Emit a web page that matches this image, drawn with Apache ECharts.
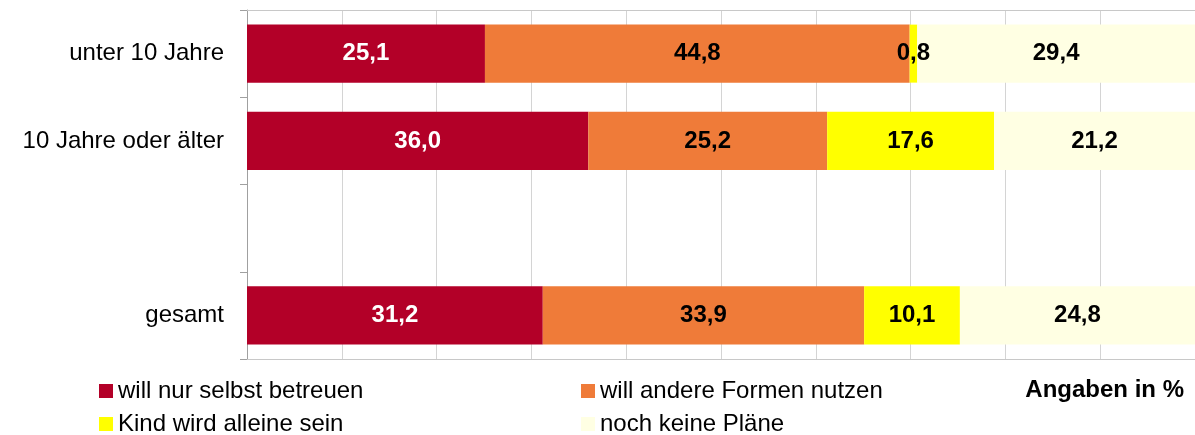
<!DOCTYPE html>
<html>
<head>
<meta charset="utf-8">
<script src="https://cdn.jsdelivr.net/npm/echarts@6/dist/echarts.min.js"></script>
<style>
  html, body { margin: 0; padding: 0; background: #ffffff; }
  #chart { width: 1195px; height: 435px; }
</style>
</head>
<body>
<div id="chart"></div>
<script>
// Age groups (top to bottom); the blank entry leaves a gap above "gesamt"
const categories = ['unter 10 Jahre', '10 Jahre oder älter', '', 'gesamt'];

// Shares in percent per answer, one value per age group
const nurSelbst   = [25.1, 36.0, null, 31.2];
const andereForm  = [44.8, 25.2, null, 33.9];
const alleine     = [0.8, 17.6, null, 10.1];
const keinePlaene = [29.4, 21.2, null, 24.8];

const seriesNames = [
  'will nur selbst betreuen',
  'will andere Formen nutzen',
  'Kind wird alleine sein',
  'noch keine Pläne'
];
const seriesData = [nurSelbst, andereForm, alleine, keinePlaene];
const seriesColors = ['#b30028', '#ef7b39', '#ffff00', '#ffffe3'];
const labelColors = ['#ffffff', '#000000', '#000000', '#000000'];

const FONT = '"Liberation Sans", Arial, Helvetica, sans-serif';

const fmt = (v) => v.toFixed(1).replace('.', ',');

// Legend laid out as two columns of two entries each
const legendSlots = [
  { left: 99, top: 379 },   // will nur selbst betreuen
  { left: 581, top: 379 },  // will andere Formen nutzen
  { left: 99, top: 412 },   // Kind wird alleine sein
  { left: 581, top: 412 }   // noch keine Pläne
];

const chart = echarts.init(document.getElementById('chart'), null, { renderer: 'canvas' });

chart.setOption({
  animation: false,
  backgroundColor: '#ffffff',
  textStyle: { fontFamily: FONT },
  grid: { left: 247, right: -3, top: 10, height: 349, containLabel: false },
  xAxis: [
    {
      type: 'value',
      min: 0,
      max: 100,
      interval: 10,
      position: 'bottom',
      axisLabel: { show: false },
      axisTick: { show: false },
      axisLine: { show: true, lineStyle: { color: '#c8c8c8', width: 1 } },
      splitLine: { show: true, lineStyle: { color: '#d4d4d4', width: 1 } }
    },
    {
      type: 'value',
      min: 0,
      max: 100,
      position: 'top',
      axisLabel: { show: false },
      axisTick: { show: false },
      axisLine: { show: true, lineStyle: { color: '#c8c8c8', width: 1 } },
      splitLine: { show: false }
    }
  ],
  yAxis: {
    type: 'category',
    inverse: true,
    data: categories,
    axisLine: { show: true, lineStyle: { color: '#a0a0a0', width: 1 } },
    axisTick: { show: true, length: 7, lineStyle: { color: '#a0a0a0' } },
    axisLabel: {
      margin: 23,
      fontSize: 24,
      color: '#000000',
      fontFamily: FONT
    },
    splitLine: { show: false }
  },
  legend: seriesNames.map((name, i) => ({
    data: [name],
    left: legendSlots[i].left,
    top: legendSlots[i].top,
    padding: 0,
    itemWidth: 14,
    itemHeight: 14,
    icon: 'rect',
    selectedMode: false,
    textStyle: { fontSize: 24, color: '#000000', fontFamily: FONT, lineHeight: 24 }
  })),
  graphic: [
    {
      type: 'text',
      right: 11,
      top: 378,
      style: {
        text: 'Angaben in %',
        fontSize: 24,
        fontWeight: 'bold',
        fontFamily: FONT,
        fill: '#000000'
      }
    }
  ],
  series: seriesData.map((data, i) => ({
    name: seriesNames[i],
    type: 'bar',
    stack: 'total',
    data: data,
    barCategoryGap: '33.5%',
    itemStyle: { color: seriesColors[i] },
    label: {
      show: true,
      position: 'inside',
      formatter: (p) => (p.value == null ? '' : fmt(p.value)),
      fontSize: 24,
      fontWeight: 'bold',
      fontFamily: FONT,
      color: labelColors[i]
    },
    emphasis: { disabled: true }
  }))
});
</script>
</body>
</html>
